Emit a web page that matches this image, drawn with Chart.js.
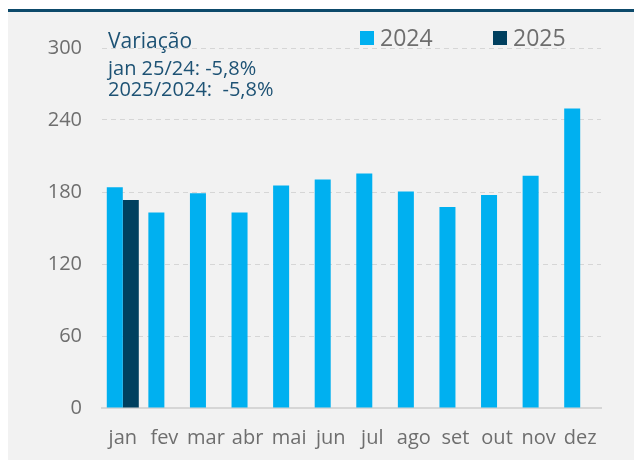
<!DOCTYPE html>
<html>
<head>
<meta charset="utf-8">
<script src="https://cdn.jsdelivr.net/npm/chart.js@4"></script>
<style>
  html, body { margin: 0; padding: 0; background: #ffffff; }
  #wrap { position: relative; width: 634px; height: 460px; }
</style>
</head>
<body>
<div id="wrap"><canvas id="chart" width="634" height="460"></canvas></div>
<script>
// Data
const months = ['jan', 'fev', 'mar', 'abr', 'mai', 'jun', 'jul', 'ago', 'set', 'out', 'nov', 'dez'];
const values2024 = [184, 163, 179, 163, 185.5, 190.5, 195.5, 180.5, 167.5, 177.5, 193.5, 249.5];
const values2025 = [173.3, null, null, null, null, null, null, null, null, null, null, null];
const yTicks = [0, 60, 120, 180, 240, 300];
const noteLines = ['Variação', 'jan 25/24: -5,8%', '2025/2024:  -5,8%'];

const FONT = '"Open Sans", "DejaVu Sans", sans-serif';

// background panel + top rule, annotation and legend
const decor = {
    id: 'decor',
    beforeDraw(chart) {
        const c = chart.ctx;
        c.save();
        c.fillStyle = '#f2f2f2';
        c.fillRect(8, 12, chart.width - 8, chart.height - 12);
        c.fillStyle = '#0d4a6b';
        c.fillRect(8, 9, chart.width - 8, 3);
        c.restore();
    },
    afterDraw(chart) {
        const c = chart.ctx;
        c.save();
        // annotation
        c.fillStyle = '#1d5274';
        c.textBaseline = 'alphabetic';
        c.textAlign = 'left';
        c.font = '21px ' + FONT;
        c.fillText(noteLines[0], 108, 48);
        c.font = '20px ' + FONT;
        c.fillText(noteLines[1], 108, 75);
        c.fillText(noteLines[2], 108, 96);
        // legend
        const xs = [360, 493];
        chart.data.datasets.forEach((ds, i) => {
            c.fillStyle = ds.backgroundColor;
            c.fillRect(xs[i], 31, 14, 14);
            c.fillStyle = '#6e6e6e';
            c.font = '23px ' + FONT;
            c.fillText(ds.label, xs[i] + 20, 46);
        });
        c.restore();
    }
};

new Chart(document.getElementById('chart'), {
    type: 'bar',
    data: {
        labels: months,
        datasets: [
            { label: '2024', data: values2024, backgroundColor: '#00b0f0', barPercentage: 1, categoryPercentage: 0.77 },
            { label: '2025', data: values2025, backgroundColor: '#00405f', barPercentage: 1, categoryPercentage: 0.77 }
        ]
    },
    options: {
        responsive: false,
        animation: false,
        layout: { padding: { left: 0, right: 33, top: 48, bottom: 0 } },
        plugins: { legend: { display: false }, tooltip: { enabled: false } },
        scales: {
            x: {
                grid: { display: false },
                border: { display: true, color: '#d6d6d6', width: 2 },
                ticks: { color: '#6e6e6e', font: { family: FONT, size: 20 }, padding: 10, maxRotation: 0, minRotation: 0, autoSkip: false },
                afterFit(scale) { scale.height = 52; }
            },
            y: {
                min: 0,
                max: 300,
                afterBuildTicks(scale) { scale.ticks = yTicks.map(v => ({ value: v })); },
                grid: { color: '#d6d6d6', lineWidth: 1, drawTicks: false },
                border: { display: false, dash: [5, 4] },
                ticks: { color: '#6e6e6e', font: { family: FONT, size: 20 }, padding: 20 },
                afterFit(scale) { scale.width = 102; }
            }
        }
    },
    plugins: [decor]
});
</script>
</body>
</html>
